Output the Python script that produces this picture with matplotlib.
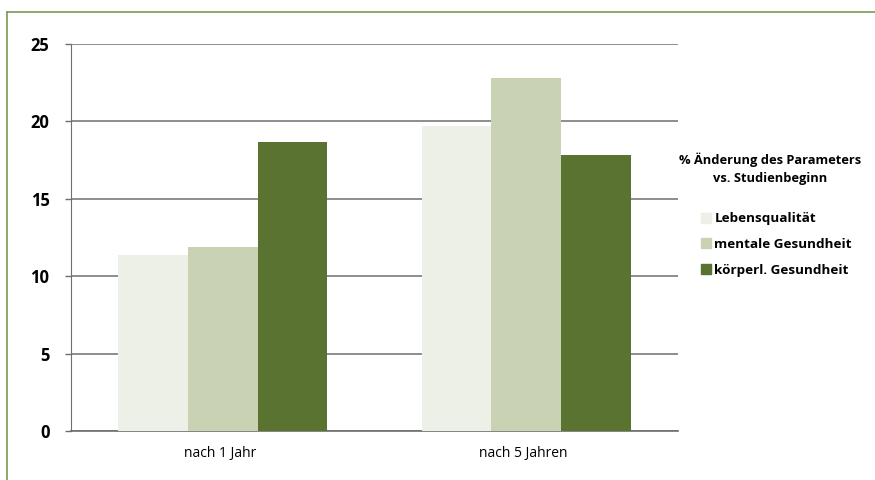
import matplotlib.pyplot as plt
import numpy as np
from matplotlib.lines import Line2D

plt.rcParams['font.family'] = ['Open Sans', 'DejaVu Sans']

groups = ["nach 1 Jahr", "nach 5 Jahren"]
series = ["Lebensqualität", "mentale Gesundheit", "körperl. Gesundheit"]
values = [
    [11.4, 19.7],   # Lebensqualität
    [11.9, 22.8],   # mentale Gesundheit
    [18.65, 17.8],  # körperl. Gesundheit
]
colors = ["#EDF0E6", "#CAD2B4", "#5B7330"]
yticks = [0, 5, 10, 15, 20, 25]

fig = plt.figure(figsize=(8.75, 4.8), dpi=100)
ax = fig.add_axes([71 / 875, 1 - 431 / 480, (678 - 71) / 875, (431 - 44) / 480])

x = np.arange(len(groups))
w = 0.229
for i, (name, vals, c) in enumerate(zip(series, values, colors)):
    ax.bar(x + (i - 1) * w, vals, width=w, color=c, label=name, zorder=3)

ax.set_xlim(-0.5, 1.5)
ax.set_ylim(0, 25)
ax.set_yticks(yticks)
ax.set_yticklabels([str(t) for t in yticks], fontsize=12, fontweight='bold')
ax.set_xticks(x - 0.01)
ax.set_xticklabels(groups, fontsize=10)
ax.tick_params(axis='x', length=0, pad=11)
ax.tick_params(axis='y', length=4.5, width=1, color='#6e6e6e', pad=11)
ax.yaxis.grid(True, color='#7a7a7a', linewidth=1.2, zorder=1)
ax.set_axisbelow(True)
for s in ['top', 'right']:
    ax.spines[s].set_visible(False)
ax.spines['left'].set_color('#6e6e6e')
ax.spines['bottom'].set_color('#6e6e6e')
ax.spines['bottom'].set_linewidth(1.2)

# legend
fig.text(0.88, 0.648, "% Änderung des Parameters\nvs. Studienbeginn", ha='center', va='center',
         fontsize=9.3, fontweight='bold', linespacing=1.45)
handles = [Line2D([], [], marker='s', linestyle='none', markersize=7.5, markerfacecolor=c,
                  markeredgecolor=c) for c in colors]
fig.legend(handles, series, loc='upper left', bbox_to_anchor=(0.788, 0.583), frameon=False,
           handlelength=0.6, handletextpad=0.35, labelspacing=0.95,
           prop={'size': 9.7, 'weight': 'bold'})

# green frame
fx = 6.5 / 875
fy = 1 - 11.5 / 480
fig.add_artist(Line2D([fx, fx], [0, fy], transform=fig.transFigure, color='#7d9a55', linewidth=1.2))
fig.add_artist(Line2D([fx, 1], [fy, fy], transform=fig.transFigure, color='#7d9a55', linewidth=1.2))

fig.savefig('out.png', dpi=100)
